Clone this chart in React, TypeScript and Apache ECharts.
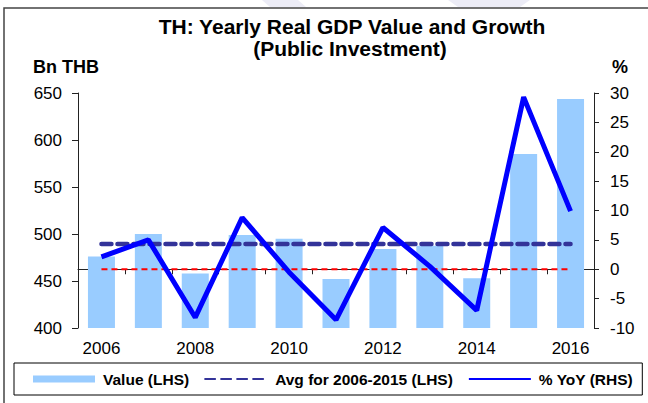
import React, { useEffect, useRef } from 'react';
import * as echarts from 'echarts';

const years = ['2006', '2007', '2008', '2009', '2010', '2011', '2012', '2013', '2014', '2015', '2016'];
const valueLHS = [476, 500, 458, 499, 495, 452, 484, 487.5, 453, 585, 643.5];
const avgLHS = [489.3, 489.3, 489.3, 489.3, 489.3, 489.3, 489.3, 489.3, 489.3, 489.3, 489.3];
const zeroRHS = [0, 0, 0, 0, 0, 0, 0, 0, 0, 0, 0];
const yoyRHS = [2.1, 5.0, -8.2, 8.8, -0.5, -8.6, 7.1, 0.5, -7.0, 29.3, 9.9];

const titleLines = ['TH: Yearly Real GDP Value and Growth', '(Public Investment)'];
const leftUnit = 'Bn THB';
const rightUnit = '%';

const FONT = '"Liberation Sans", Arial, sans-serif';

export default function App() {
  const ref = useRef<HTMLDivElement>(null);
  useEffect(() => {
    if (!ref.current) return;
    const chart = echarts.init(ref.current, null, { renderer: 'svg' });
    chart.setOption({
      animation: false,
      backgroundColor: '#ffffff',
      textStyle: { fontFamily: FONT },
      grid: { left: 78, right: 54, top: 93, bottom: 75, containLabel: false },
      graphic: [
        { type: 'rect', silent: true, z: -10, shape: { x: 4, y: 8, width: 700, height: 500 }, style: { fill: 'none', stroke: '#444', lineWidth: 1.5 } },
        { type: 'polygon', silent: true, z: -20, shape: { points: [[262, 0], [298, 0], [306, 7], [270, 7]] }, style: { fill: '#ECECF6' } },
        { type: 'polygon', silent: true, z: -20, shape: { points: [[448, 0], [530, 0], [520, 7], [458, 7]] }, style: { fill: '#ECECF6' } },
        { type: 'text', x: 352, y: 26.5, style: { text: titleLines[0], textAlign: 'center', textVerticalAlign: 'middle', font: `bold 21px ${FONT}`, fill: '#000' } },
        { type: 'text', x: 350, y: 48, style: { text: titleLines[1], textAlign: 'center', textVerticalAlign: 'middle', font: `bold 21px ${FONT}`, fill: '#000' } },
        { type: 'text', x: 33, y: 67, style: { text: leftUnit, textAlign: 'left', textVerticalAlign: 'middle', font: `bold 18px ${FONT}`, fill: '#000' } },
        { type: 'text', x: 620, y: 67, style: { text: rightUnit, textAlign: 'center', textVerticalAlign: 'middle', font: `bold 18px ${FONT}`, fill: '#000' } },
      ],
      legend: {
        left: 14,
        top: 363,
        padding: [8, 9, 8, 19],
        itemGap: 15,
        itemWidth: 62,
        itemHeight: 7,
        borderColor: '#000',
        borderWidth: 1,
        textStyle: { fontSize: 15.5, fontWeight: 'bold', color: '#000', fontFamily: FONT, padding: [0, 0, 0, 3] },
        data: [
          { name: 'Value (LHS)', icon: 'rect' },
          { name: 'Avg for 2006-2015 (LHS)', itemStyle: { opacity: 0 } },
          { name: '% YoY (RHS)', itemStyle: { opacity: 0 } },
        ],
      },
      xAxis: {
        type: 'category',
        data: years,
        boundaryGap: true,
        axisLine: { lineStyle: { color: '#222', width: 1 } },
        axisTick: { show: true, interval: 0, length: 5, lineStyle: { color: '#222' } },
        axisLabel: { interval: 1, margin: 12, fontSize: 17, color: '#000', fontFamily: FONT },
        splitLine: { show: false },
      },
      yAxis: [
        {
          type: 'value',
          min: 400,
          max: 650,
          interval: 50,
          position: 'left',
          axisLine: { show: true, lineStyle: { color: '#222', width: 1 } },
          axisTick: { show: true, length: 6, lineStyle: { color: '#222' } },
          axisLabel: { margin: 16, fontSize: 17, color: '#000', fontFamily: FONT },
          splitLine: { show: false },
        },
        {
          type: 'value',
          min: -10,
          max: 30,
          interval: 5,
          position: 'right',
          axisLine: { show: true, lineStyle: { color: '#222', width: 1 } },
          axisTick: { show: true, length: 5, lineStyle: { color: '#222' } },
          axisLabel: { margin: 16, fontSize: 17, color: '#000', fontFamily: FONT },
          splitLine: { show: false },
        },
      ],
      series: [
        {
          name: 'Value (LHS)',
          type: 'bar',
          yAxisIndex: 0,
          data: valueLHS,
          barWidth: 27,
          itemStyle: { color: '#99CCFF' },
          z: 1,
        },
        {
          name: 'Avg for 2006-2015 (LHS)',
          type: 'line',
          yAxisIndex: 0,
          data: avgLHS,
          symbol: 'none',
          lineStyle: { color: '#333399', width: 4.5, type: [10, 6], cap: 'round' },
          itemStyle: { color: '#333399' },
          z: 3,
        },
        {
          name: 'zero',
          type: 'line',
          yAxisIndex: 1,
          data: zeroRHS,
          symbol: 'none',
          lineStyle: { color: '#FF0000', width: 2, type: [6, 4] },
          itemStyle: { color: '#FF0000' },
          z: 4,
        },
        {
          name: '% YoY (RHS)',
          type: 'line',
          yAxisIndex: 1,
          data: yoyRHS,
          symbol: 'none',
          lineStyle: { color: '#0000FF', width: 5 },
          itemStyle: { color: '#0000FF' },
          z: 5,
        },
      ],
    });
    return () => chart.dispose();
  }, []);
  return <div ref={ref} style={{ position: 'fixed', left: 0, top: 0, width: 648, height: 403 }} />;
}
